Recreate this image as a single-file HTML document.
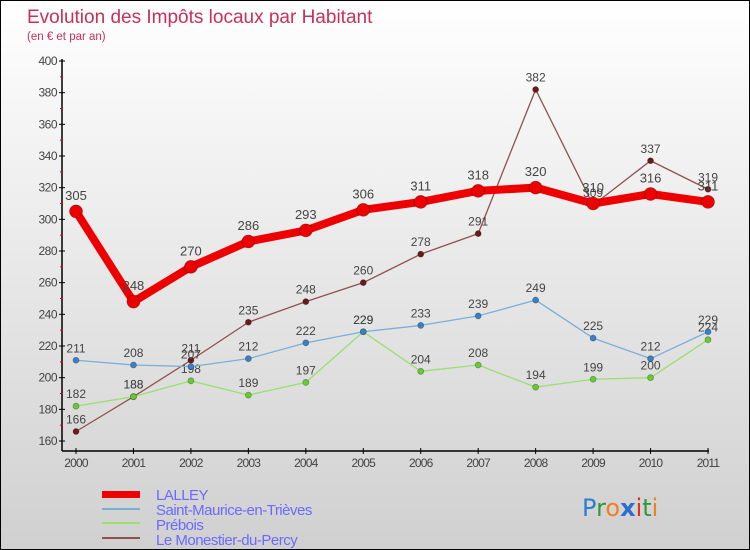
<!DOCTYPE html>
<html><head><meta charset="utf-8"><style>
html,body{margin:0;padding:0}
body{width:750px;height:550px;overflow:hidden;font-family:"Liberation Sans","DejaVu Sans",sans-serif}
#wrap{position:relative;width:748px;height:548px;border:1px solid #000;background:linear-gradient(#ffffff,#d0d0d0)}
</style></head><body>
<div id="wrap">
<svg id="chart" width="748" height="548" style="position:absolute;left:0;top:0">
<text x="26" y="22" font-size="19" fill="#c8305a">Evolution des Impôts locaux par Habitant</text>
<text x="26" y="39" font-size="11.5" fill="#c8305a">(en € et par an)</text>
<g id="axes"></g><g id="series"></g>
<g>
<rect x="101" y="490" width="38" height="7" fill="#e00"/>
<line x1="101" y1="508" x2="139" y2="508" stroke="#7ab0d8" stroke-width="2"/>
<line x1="101" y1="522" x2="139" y2="522" stroke="#99e070" stroke-width="2"/>
<line x1="101" y1="537" x2="139" y2="537" stroke="#905050" stroke-width="2"/>
<g font-size="15" fill="#6a6aff" letter-spacing="-0.5">
<text x="155" y="499">LALLEY</text>
<text x="155" y="514">Saint-Maurice-en-Trièves</text>
<text x="155" y="529">Prébois</text>
<text x="155" y="544">Le Monestier-du-Percy</text>
</g></g>
<g font-size="24" font-family="'DejaVu Sans',sans-serif">
<text x="581" y="515"><tspan fill="#2a7fd0">P</tspan><tspan fill="#2a9a3a">r</tspan><tspan fill="#f08020">o</tspan><tspan fill="#2a6fd0" font-weight="bold">x</tspan><tspan fill="#e03020">i</tspan><tspan fill="#2a9a3a">t</tspan><tspan fill="#f08020">i</tspan></text>
</g>
</svg>
</div>
<script>
const years=[2000,2001,2002,2003,2004,2005,2006,2007,2008,2009,2010,2011];
const lalley=[305,248,270,286,293,306,311,318,320,310,316,311];
const stMaurice=[211,208,207,212,222,229,233,239,249,225,212,229];
const prebois=[182,188,198,189,197,229,204,208,194,199,200,224];
const monestier=[166,188,211,235,248,260,278,291,382,309,337,319];
const yTicks=[160,180,200,220,240,260,280,300,320,340,360,380,400];
const NS='http://www.w3.org/2000/svg';
function X(i){return 75+i*(707-75)/(years.length-1);}
function Y(v){return 60+(400-v)*(380/240);}
function mk(tag,attrs,parent){const e=document.createElementNS(NS,tag);for(const k in attrs)e.setAttribute(k,attrs[k]);parent.appendChild(e);return e;}
const axes=document.getElementById('axes');
const ya=mk('line',{x1:61,y1:58,x2:61,y2:450,stroke:'#000','stroke-width':1.5},axes);


const xa=mk('line',{x1:61,y1:450,x2:708,y2:450,stroke:'#000','stroke-width':1.5},axes);


yTicks.forEach((v,i)=>{
  mk('line',{x1:58,y1:Y(v),x2:64,y2:Y(v),stroke:'#000'},axes);
  const t=mk('text',{x:56,y:Y(v)+4,'text-anchor':'end','font-size':12,fill:'#444','letter-spacing':'-0.5'},axes);
  t.textContent=v;
  
  
  if(i<yTicks.length-1) mk('line',{x1:59,y1:Y(v+10),x2:62,y2:Y(v+10),stroke:'#e00'},axes);
});
years.forEach((y,i)=>{
  mk('line',{x1:X(i),y1:447,x2:X(i),y2:453,stroke:'#000'},axes);
  const t=mk('text',{x:X(i),y:466,'text-anchor':'middle','font-size':12,fill:'#444','letter-spacing':'-0.8'},axes);
  t.textContent=y;
  
  
});
const sg=document.getElementById('series');
function draw(vals,color,dot,w,r,name,lblSize){
  const g=mk('g',{},sg);
  
  
  mk('polyline',{points:vals.map((v,i)=>X(i)+','+Y(v)).join(' '),fill:'none',stroke:color,'stroke-width':w,'stroke-linejoin':'round'},g);
  vals.forEach((v,i)=>{
    const c=mk('circle',{cx:X(i),cy:Y(v),r:r,fill:dot,stroke:'rgba(0,0,0,0.3)','stroke-width':0.8},g);
    
    
    const t=mk('text',{x:X(i),y:Y(v)-(r+5),'text-anchor':'middle','font-size':lblSize,fill:'#444'},g);
    t.textContent=v;
    
    
  });
}
draw(monestier,'#905050','#6a1a1a',1.3,3,'series-monestier',12);
draw(prebois,'#99e070','#66cc33',1.3,3,'series-prebois',12);
draw(stMaurice,'#7ab0d8','#3a80c8',1.3,3,'series-saint-maurice',12);
draw(lalley,'#e00','#e00',8,6.5,'series-lalley',13);
</script>
</body></html>
